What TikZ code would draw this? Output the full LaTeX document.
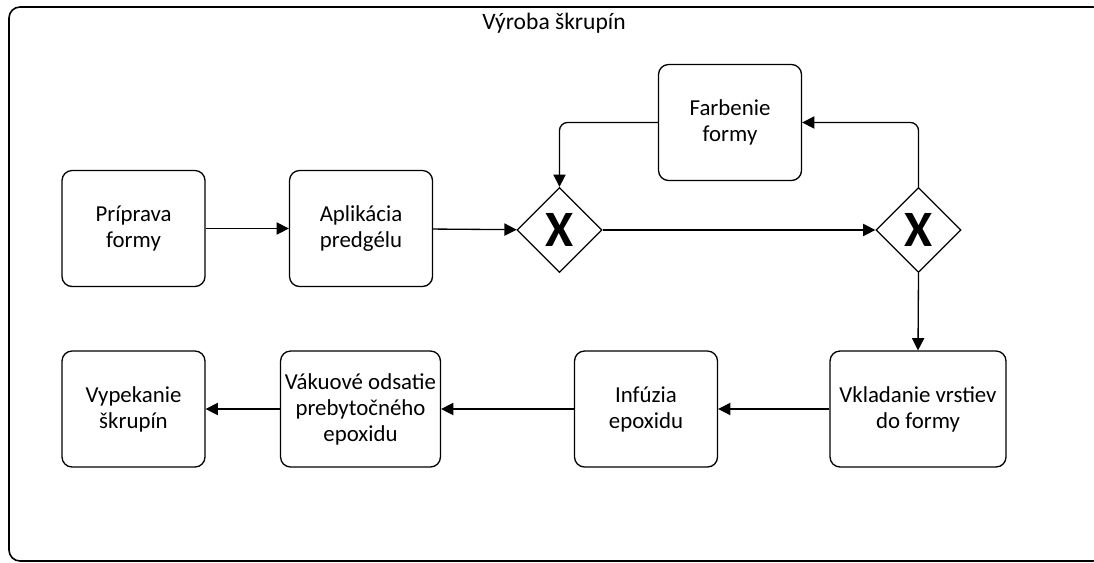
\documentclass[tikz,border=0pt]{standalone}
\usepackage{fontspec}
\setmainfont{Carlito}
\usetikzlibrary{shapes.geometric,arrows.meta}

\begin{document}
\begin{tikzpicture}[
      x=0.02cm, y=-0.02cm,
      font=\fontsize{13}{14.8}\selectfont,
      Task/.style={
        draw, line width=0.75pt, rounded corners=0.2cm,
        minimum width=2.86cm, minimum height=2.32cm,
        align=center, inner sep=1pt,
      },
      Gateway/.style={
        draw, line width=0.75pt, diamond, aspect=1,
        minimum size=1.7cm, inner sep=0pt,
        font=\fontsize{29}{30}\selectfont\bfseries,
      },
      Flow/.style={
        draw, line width=0.75pt, rounded corners=0.16cm,
        -{Triangle[length=7pt,width=7pt]},
      },
      ]
      \useasboundingbox (0, 0) rectangle (1094, 562);
      \clip (0, 0) rectangle (1094, 562);
      \draw[line width=0.9pt, rounded corners=0.22cm] (9, 7) rectangle (1104, 561);

      \node (title) at (554, 23) {\fontsize{13.4}{14.8}\selectfont Výroba škrupín};

      \node[Task] (prip) at (133.5, 228.5) {Príprava\\formy};
      \node[Task] (apl) at (361, 228.5) {Aplikácia\\predgélu};
      \node[Gateway] (gw1) at (559.5, 230) {X};
      \node[Task] (farb) at (730, 122.5) {Farbenie\\formy};
      \node[Gateway] (gw2) at (918.5, 230) {X};

      \node[Task, minimum width=3.52cm] (vkl) at (918, 409) {Vkladanie vrstiev\\do formy};
      \node[Task] (inf) at (646, 409) {Infúzia\\epoxidu};
      \node[Task, inner sep=2.5pt] (vak) at (360.5, 409) {Vákuové odsatie\\prebytočného\\epoxidu};
      \node[Task] (vyp) at (133.5, 409) {Vypekanie\\škrupín};

      \draw[Flow] (prip) -- (apl);
      \draw[Flow] (apl) -- (gw1);
      \draw[Flow] (gw1) -- (gw2);
      \draw[Flow] (gw2.north) |- (farb.east);
      \draw[Flow] (farb.west) -| (gw1.north);
      \draw[Flow] (gw2.south) -- (vkl.north);

      \draw[Flow] (vkl) -- (inf);
      \draw[Flow] (inf) -- (vak);
      \draw[Flow] (vak) -- (vyp);
    \end{tikzpicture}
\end{document}
